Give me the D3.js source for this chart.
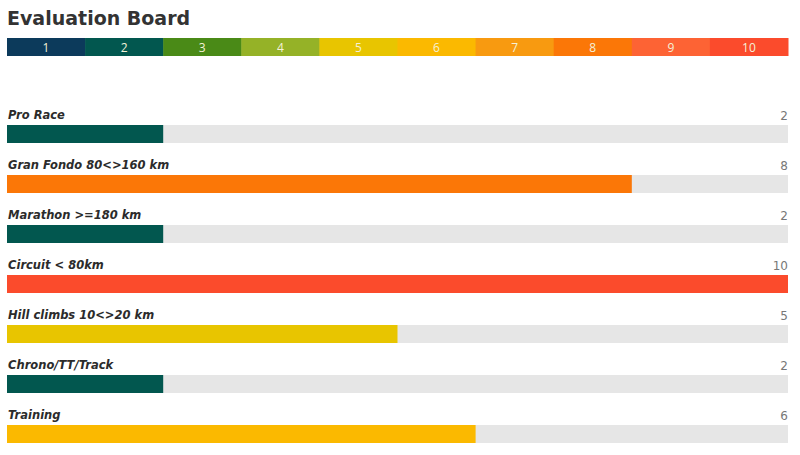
<!DOCTYPE html>
<html><head><meta charset="utf-8">
<script src="https://cdn.jsdelivr.net/npm/d3@7"></script>
<style>body{margin:0;background:#fff;}</style>
</head><body>
<svg id="chart" width="800" height="455"></svg>
<script>
const title = "Evaluation Board";
const levels = [1,2,3,4,5,6,7,8,9,10];
const levelColors = ["#0c3a5b","#02574f","#4a8a17","#95b227","#e8c500","#fbb900","#f89a10","#fb7707","#fd6334","#fb4b2c"];
const categories = ["Pro Race","Gran Fondo 80<>160 km","Marathon >=180 km","Circuit < 80km","Hill climbs 10<>20 km","Chrono/TT/Track","Training"];
const values = [2,8,2,10,5,2,6];

const svg = d3.select("#chart");
const left = 7, right = 788;

svg.append("text").attr("x", 7).attr("y", 25)
  .attr("font-family", "'DejaVu Sans', sans-serif").attr("font-weight", "bold")
  .attr("font-size", 19).attr("fill", "#333").text(title);

const lx = d3.scaleBand().domain(levels).range([left, right]);
const color = d3.scaleOrdinal().domain(levels).range(levelColors);

const leg = svg.append("g");
leg.selectAll("rect").data(levels).join("rect")
  .attr("x", d => lx(d)).attr("y", 38).attr("width", lx.bandwidth()+0.5).attr("height", 18)
  .attr("fill", d => color(d));
leg.selectAll("text").data(levels).join("text")
  .attr("x", d => lx(d) + lx.bandwidth()/2).attr("y", 52)
  .attr("text-anchor", "middle").attr("font-family", "'Open Sans', sans-serif")
  .attr("font-size", 12).attr("fill", "#f4f1d8").text(d => d);

const x = d3.scaleLinear().domain([0, 10]).range([left, right]);
const y = d3.scalePoint().domain(categories).range([125, 425]);

const rows = svg.append("g").selectAll("g").data(categories).join("g")
  .attr("transform", d => `translate(0,${y(d)})`);
rows.append("rect").attr("x", x(0)).attr("y", 0).attr("width", x(10)-x(0)).attr("height", 18).attr("fill", "#e6e6e6");
rows.append("rect").attr("x", x(0)).attr("y", 0)
  .attr("width", (d,i) => x(values[i]) - x(0)).attr("height", 18)
  .attr("fill", (d,i) => color(values[i]));
rows.append("text").attr("x", 8).attr("y", -6)
  .attr("font-family", "'DejaVu Sans', sans-serif").attr("font-weight", "bold").attr("font-style", "italic")
  .attr("font-size", 11.5).attr("fill", "#2b2b2b").text(d => d);
rows.append("text").attr("x", right).attr("y", -5).attr("text-anchor", "end")
  .attr("font-family", "'DejaVu Sans', sans-serif").attr("font-size", 12).attr("fill", "#777")
  .text((d,i) => values[i]);
</script>
</body></html>
